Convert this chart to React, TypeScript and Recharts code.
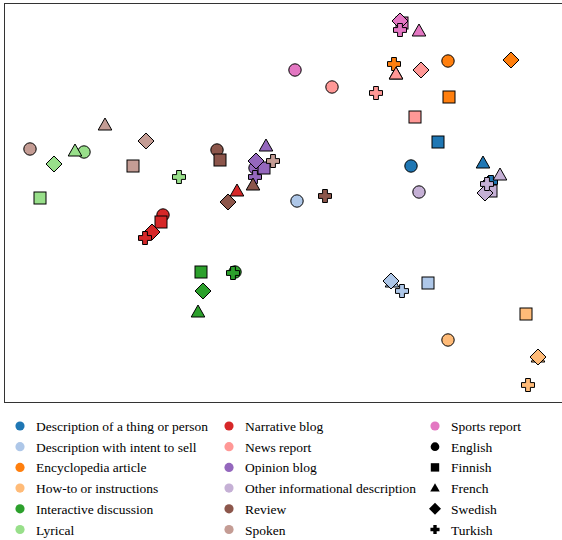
import React from 'react';
import { ScatterChart, Scatter, XAxis, YAxis } from 'recharts';

const genres = [
  'Description of a thing or person',
  'Description with intent to sell',
  'Encyclopedia article',
  'How-to or instructions',
  'Interactive discussion',
  'Lyrical',
  'Narrative blog',
  'News report',
  'Opinion blog',
  'Other informational description',
  'Review',
  'Spoken',
  'Sports report',
];

const genreColors = [
  '#1f77b4', '#aec7e8', '#ff7f0e', '#ffbb78', '#2ca02c', '#98df8a', '#d62728',
  '#ff9896', '#9467bd', '#c5b0d5', '#8c564b', '#c49c94', '#e377c2',
];

const languages = ['English', 'Finnish', 'French', 'Swedish', 'Turkish'];

// embedding coordinates, one row per genre, columns in language order
const xValues = [
  [407, 434, 479, 485, 487],
  [293, 424, 388, 387, 398],
  [444, 445, 392, 507, 390],
  [444, 522, 534, 534, 524],
  [231, 197, 194, 199, 229],
  [80, 36, 71, 50, 175],
  [159, 157, 233, 148, 141],
  [328, 411, 392, 417, 372],
  [251, 260, 262, 252, 251],
  [415, 487, 496, 481, 483],
  [213, 216, 249, 224, 321],
  [26, 129, 101, 142, 269],
  [291, 398, 415, 396, 396],
];

const yValues = [
  [236, 260, 239, 219, 220],
  [201, 119, 120, 121, 111],
  [341, 305, 328, 342, 338],
  [62, 88, 45, 45, 17],
  [130, 130, 90, 111, 129],
  [250, 204, 251, 238, 225],
  [187, 180, 211, 170, 164],
  [315, 285, 328, 332, 309],
  [234, 234, 256, 241, 225],
  [210, 211, 227, 209, 218],
  [252, 242, 217, 200, 206],
  [253, 236, 277, 261, 241],
  [332, 379, 371, 381, 372],
];

type MarkProps = { cx: number; cy: number; fill: string; stroke?: string; lang: string; scale?: number };

const Mark = ({ cx, cy, fill, stroke = '#000', lang, scale = 1 }: MarkProps) => {
  const s = scale;
  const common = { fill, stroke, strokeWidth: stroke === 'none' ? 0 : 1 };
  if (lang === 'English') return <circle cx={cx} cy={cy} r={6.2 * s} {...common} />;
  if (lang === 'Finnish')
    return <rect x={cx - 6 * s} y={cy - 6 * s} width={12 * s} height={12 * s} {...common} />;
  if (lang === 'French') {
    const pts = `${cx},${cy - 7 * s} ${cx + 6.8 * s},${cy + 5 * s} ${cx - 6.8 * s},${cy + 5 * s}`;
    return <polygon points={pts} {...common} />;
  }
  if (lang === 'Swedish') {
    const d = 8 * s;
    const pts = `${cx},${cy - d} ${cx + d},${cy} ${cx},${cy + d} ${cx - d},${cy}`;
    return <polygon points={pts} {...common} />;
  }
  const a = 6.5 * s;
  const w = 2.4 * s;
  const pts = [
    [-w, -a], [w, -a], [w, -w], [a, -w], [a, w], [w, w], [w, a], [-w, a], [-w, w], [-a, w], [-a, -w], [-w, -w],
  ]
    .map(([x, y]) => `${cx + x},${cy + y}`)
    .join(' ');
  return <polygon points={pts} {...common} />;
};

const seriesData = genres.map((g, gi) =>
  languages.map((lang, li) => ({ x: xValues[gi][li], y: yValues[gi][li], lang, genre: g }))
);

const legendItems = [
  ...genres.map((g, i) => ({ label: g, color: genreColors[i], lang: 'English', small: true })),
  ...languages.map((l) => ({ label: l, color: '#000', lang: l, small: false })),
];

const App = () => {
  const rows = 6;
  const colX = [16, 225, 431];
  return (
    <div style={{ position: 'absolute', left: 0, top: 0, width: 562, height: 540, background: '#fff' }}>
      <ScatterChart width={562} height={404} margin={{ top: 3, right: 0, bottom: 2, left: 4 }}>
        <XAxis type="number" dataKey="x" domain={[0, 558]} hide />
        <YAxis type="number" dataKey="y" domain={[0, 399]} hide />
        {seriesData.map((d, gi) => (
          <Scatter
            key={genres[gi]}
            data={d}
            isAnimationActive={false}
            shape={(p: any) => <Mark cx={p.cx} cy={p.cy} fill={genreColors[gi]} lang={p.payload.lang} />}
          />
        ))}
      </ScatterChart>
      <div
        style={{
          position: 'absolute', left: 4, top: 3, width: 560, height: 398,
          border: '1px solid #333', pointerEvents: 'none',
        }}
      />
      <svg width={562} height={136} style={{ position: 'absolute', left: 0, top: 404 }}>
        {legendItems.map((it, i) => {
          const col = Math.floor(i / rows);
          const row = i % rows;
          const y = 22 + row * 20.7;
          const x = colX[col];
          return (
            <g key={it.label}>
              <Mark
                cx={x + 4}
                cy={y}
                fill={it.color}
                stroke="none"
                lang={it.lang}
                scale={it.small ? 0.74 : it.lang === 'Swedish' ? 0.75 : 0.7}
              />
              <text x={x + 20} y={y + 5} fontFamily="'Liberation Serif', serif" fontSize={13.5} fill="#000">
                {it.label}
              </text>
            </g>
          );
        })}
      </svg>
    </div>
  );
};

export default App;
